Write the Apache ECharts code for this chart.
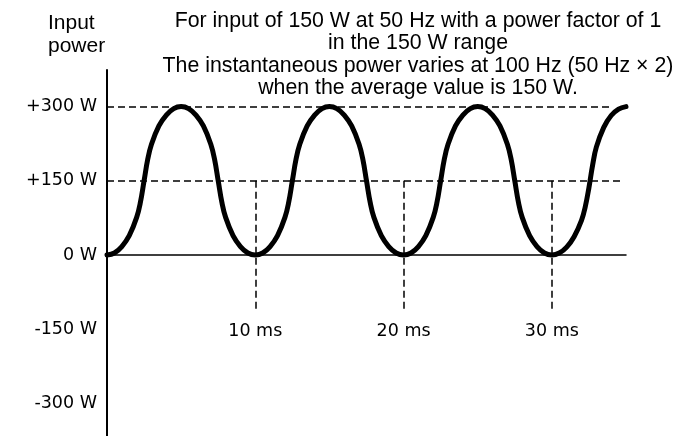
<!DOCTYPE html>
<html>
<head>
<meta charset="utf-8">
<script src="https://cdn.jsdelivr.net/npm/echarts@6/dist/echarts.min.js"></script>
<style>
  html, body { margin: 0; padding: 0; background: #fff; }
  #chart { width: 675px; height: 436px; }
</style>
</head>
<body>
<div id="chart"></div>
<script>
// Sample times (ms) along the instantaneous power curve
const sampleTimes = [
  0, 0.5, 1, 1.5, 2, 2.25, 2.5, 2.75, 3, 3.5, 4, 4.5,
  5, 5.5, 6, 6.5, 7, 7.25, 7.5, 7.75, 8, 8.5, 9, 9.5,
  10, 10.5, 11, 11.5, 12, 12.25, 12.5, 12.75, 13, 13.5, 14, 14.5,
  15, 15.5, 16, 16.5, 17, 17.25, 17.5, 17.75, 18, 18.5, 19, 19.5,
  20, 20.5, 21, 21.5, 22, 22.25, 22.5, 22.75, 23, 23.5, 24, 24.5,
  25, 25.5, 26, 26.5, 27, 27.25, 27.5, 27.75, 28, 28.5, 29, 29.5,
  30, 30.5, 31, 31.5, 32, 32.25, 32.5, 32.75, 33, 33.5, 34, 34.5,
  35
];
// Instantaneous power (W) at each sample time
const powerValues = [
  0, 4, 17, 39, 76, 106, 150, 194, 224, 261, 283, 296,
  300, 296, 283, 261, 224, 194, 150, 106, 76, 39, 17, 4,
  0, 4, 17, 39, 76, 106, 150, 194, 224, 261, 283, 296,
  300, 296, 283, 261, 224, 194, 150, 106, 76, 39, 17, 4,
  0, 4, 17, 39, 76, 106, 150, 194, 224, 261, 283, 296,
  300, 296, 283, 261, 224, 194, 150, 106, 76, 39, 17, 4,
  0, 4, 16, 37, 70, 97, 136, 182, 218, 258, 282, 295,
  300
];
// Axis tick labels
const yTickValues = [-300, -150, 0, 150, 300];
const xTickValues = [10, 20, 30];
// Reference levels: average and peak power
const averagePower = 150;
const peakPower = 300;

const titleLines = [
  'For input of 150 W at 50 Hz with a power factor of 1',
  'in the 150 W range',
  'The instantaneous power varies at 100 Hz (50 Hz \u00d7 2)',
  'when the average value is 150 W.'
];
const yAxisTitle = 'Input\npower';

const curve = sampleTimes.map((t, i) => [t, powerValues[i]]);

const labelFont = { fontFamily: 'DejaVu Sans', fontSize: 17.5, color: '#000' };
const noLabel = { label: { show: false } };

// Dashed guides: peak and average levels, plus drop lines at each time tick
const guideLines = [
  [Object.assign({ coord: [0, peakPower] }, noLabel), { coord: [33.9, peakPower] }],
  [Object.assign({ coord: [0, averagePower] }, noLabel), { coord: [34.7, averagePower] }]
].concat(xTickValues.map(t => [
  { coord: [t, averagePower], name: t + ' ms' },
  { coord: [t, -115] }
]));

const chart = echarts.init(document.getElementById('chart'), null, { renderer: 'canvas' });
chart.setOption({
  animation: false,
  backgroundColor: '#fff',
  title: [
    {
      text: titleLines.join('\n'),
      left: 413,
      top: 5,
      textAlign: 'center',
      textStyle: {
        fontFamily: 'Liberation Sans', fontSize: 21.3, fontWeight: 'normal',
        color: '#000', lineHeight: 22.4, align: 'center'
      }
    },
    {
      text: yAxisTitle,
      left: 43,
      top: 7,
      textStyle: {
        fontFamily: 'Liberation Sans', fontSize: 21, fontWeight: 'normal',
        color: '#000', lineHeight: 23
      }
    }
  ],
  grid: { left: 107, right: 49, top: 70, bottom: 0, containLabel: false, outerBoundsMode: 'none' },
  xAxis: {
    type: 'value',
    min: 0,
    max: 35,
    axisLine: { show: true, onZero: true, lineStyle: { color: '#000', width: 1.5 } },
    axisTick: { show: false },
    splitLine: { show: false },
    axisLabel: { show: false }
  },
  yAxis: {
    type: 'value',
    min: -366,
    max: 374,
    axisLine: { show: true, onZero: false, lineStyle: { color: '#000', width: 2 } },
    axisTick: { show: false },
    splitLine: { show: false },
    axisLabel: Object.assign({
      customValues: yTickValues,
      formatter: v => (v > 0 ? '+' + v : String(v)) + ' W',
      margin: 10
    }, labelFont)
  },
  series: [
    {
      type: 'line',
      data: [],
      z: 1,
      silent: true,
      markLine: {
        silent: true,
        symbol: ['none', 'none'],
        label: Object.assign({ show: true, position: 'end', formatter: '{b}', distance: 11 }, labelFont),
        lineStyle: { color: '#000', width: 1.5, type: [7, 4] },
        emphasis: { disabled: true },
        data: guideLines
      }
    },
    {
      type: 'line',
      data: curve,
      z: 3,
      smooth: 0.4,
      showSymbol: false,
      silent: true,
      lineStyle: { color: '#000', width: 5, cap: 'round', join: 'round' }
    }
  ]
});
</script>
</body>
</html>
